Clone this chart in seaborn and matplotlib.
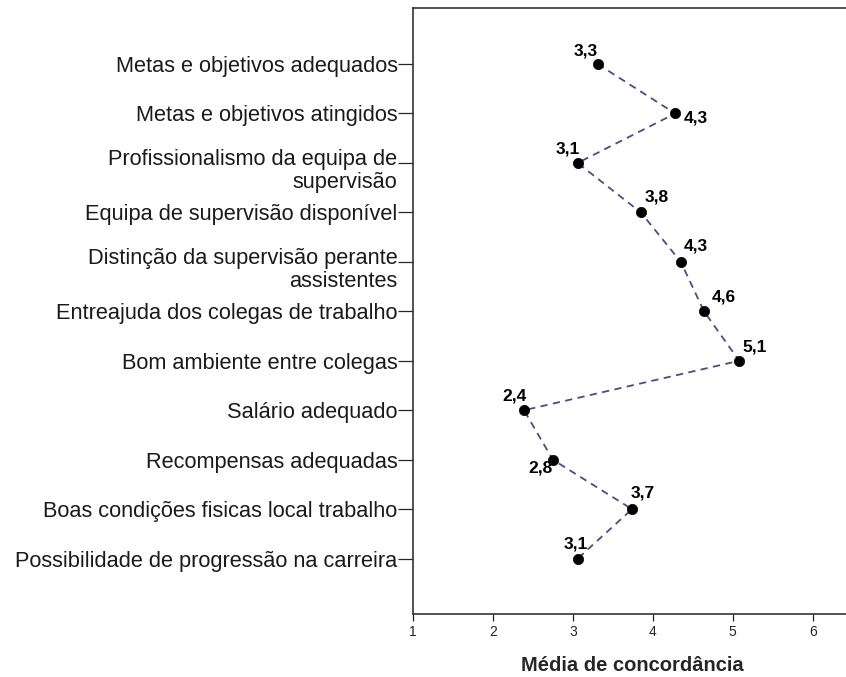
import numpy as np
import pandas as pd
import matplotlib
matplotlib.use('Agg')
import matplotlib.pyplot as plt
import matplotlib.transforms as mtransforms
import seaborn as sns

# ================= 数据 =================
categories = [
    'Metas e objetivos adequados',
    'Metas e objetivos atingidos',
    'Profissionalismo da equipa de\nsupervisão',
    'Equipa de supervisão disponível',
    'Distinção da supervisão perante\nassistentes',
    'Entreajuda dos colegas de trabalho',
    'Bom ambiente entre colegas',
    'Salário adequado',
    'Recompensas adequadas',
    'Boas condições fisicas local trabalho',
    'Possibilidade de progressão na carreira',
]
means = [3.31, 4.28, 3.06, 3.85, 4.35, 4.64, 5.08, 2.39, 2.75, 3.74, 3.06]
value_labels = ['3,3', '4,3', '3,1', '3,8', '4,3', '4,6', '5,1', '2,4', '2,8', '3,7', '3,1']
# 标签中心相对于点的偏移 (像素)
label_offsets = [(-12, 13), (21, -5), (-10, 14), (16, 15), (15, 16), (20, 14),
                 (15, 14), (-10, 14), (-12, -8), (11, 16), (-2, 15)]
x_ticks = [1, 2, 3, 4, 5, 6]

# ================= 样式 =================
sns.set_style('white')
plt.rcParams['font.family'] = ['Liberation Sans', 'DejaVu Sans']

df = pd.DataFrame({'Item': categories, 'Media': means, 'pos': np.arange(len(categories))})

fig = plt.figure(figsize=(8.46, 6.77), dpi=100)
ax = fig.add_axes([0.488, 0.093, 0.52, 0.895])

sns.lineplot(ax=ax, data=df, x='Media', y='pos', sort=False, orient='y', color='#4a4a90',
             linestyle=(0, (4, 3)), linewidth=1.3)
sns.scatterplot(ax=ax, data=df, x='Media', y='pos', color='black', s=55, edgecolor='black',
                linewidth=0.5, zorder=3)

for xv, yv, lab, (dx, dy) in zip(df['Media'], df['pos'], value_labels, label_offsets):
    ax.annotate(lab, (xv, yv), xytext=(dx, dy), textcoords='offset pixels',
                ha='center', va='center', fontsize=12.5, fontweight='bold', color='black')

ax.set_xlim(1, 6.5)
ax.set_ylim(len(categories) - 1 + 1.12, -1.13)
ax.set_xticks(x_ticks)
ax.set_xticklabels([str(t) for t in x_ticks], fontsize=10)
ax.set_yticks(df['pos'])
ax.set_yticklabels(categories, fontsize=15.7, color='#1a1a1a', linespacing=1.12)
ax.tick_params(axis='y', length=11, width=0.9, pad=0, left=True, direction='out')
ax.tick_params(axis='x', length=5, width=0.9, pad=3, bottom=True, direction='out')
ax.set_xlabel('Média de concordância', fontsize=14.5, fontweight='bold', labelpad=12)
ax.set_ylabel('')

# 两行标签稍微下移
shift = mtransforms.ScaledTranslation(0, -5 / 100, fig.dpi_scale_trans)
for t in ax.get_yticklabels():
    if '\n' in t.get_text():
        t.set_transform(t.get_transform() + shift)

for s in ['left', 'bottom', 'top', 'right']:
    ax.spines[s].set_color('#333333')
    ax.spines[s].set_linewidth(1.2)

plt.savefig('out.png', dpi=100)
